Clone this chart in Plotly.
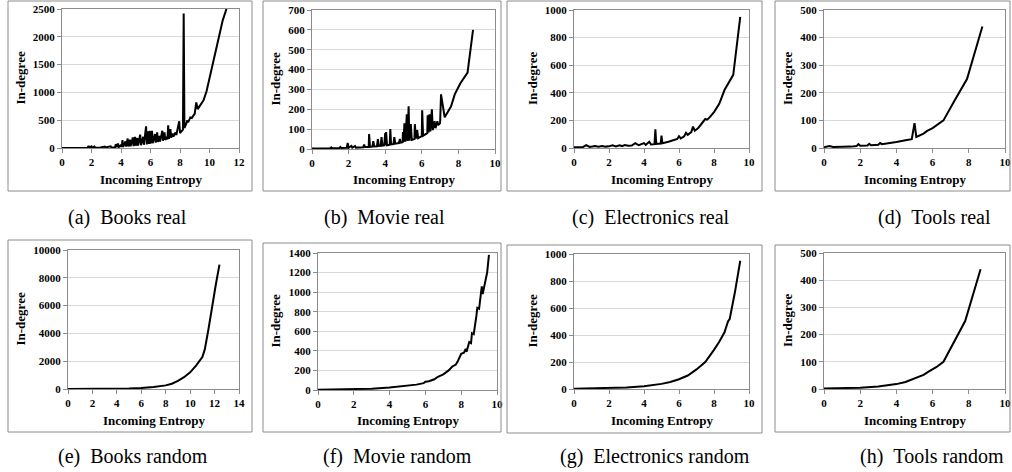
import plotly.graph_objects as go

W, H = 1012, 472

# ---------------- data ----------------
books_real_x = [0.0, 0.8, 1.5, 1.75, 1.8, 1.85, 2.0, 2.05, 2.2, 2.25, 2.6, 2.9, 2.95, 3.3, 3.35, 3.6, 3.65, 3.7, 3.8, 3.85,
                4.0, 4.05, 4.1, 4.15, 4.3, 4.35, 4.45, 4.5, 4.6, 4.65, 4.8, 4.85, 4.95, 5.0, 5.1, 5.15, 5.3, 5.35, 5.5, 5.55,
                5.7, 5.75, 5.85, 5.9, 5.95, 6.0, 6.1, 6.15, 6.3, 6.35, 6.45, 6.5, 6.6, 6.65, 6.8, 6.85, 6.95, 7.0, 7.1, 7.15,
                7.2, 7.25, 7.35, 7.4, 7.5, 7.55, 7.7, 7.75, 7.95, 8.0, 8.1, 8.2, 8.25, 8.3, 8.4, 8.5, 8.55, 8.7, 8.8, 9.0,
                9.1, 9.2, 9.4, 9.6, 9.8, 10.0, 10.3, 10.6, 10.9, 11.15]
books_real_y = [2, 3, 4, 5, 40, 6, 30, 6, 25, 6, 8, 25, 9, 30, 11, 14, 70, 15, 80, 16,
                50, 18, 140, 20, 120, 24, 170, 28, 150, 30, 190, 35, 200, 40, 180, 44, 240, 50, 200, 58,
                390, 64, 300, 74, 310, 80, 310, 86, 250, 96, 280, 108, 220, 115, 310, 130, 280, 145, 200, 155,
                410, 165, 340, 185, 260, 205, 280, 235, 480, 270, 300, 330, 2420, 360, 420, 500, 460, 550, 540, 620,
                820, 700, 780, 860, 1020, 1250, 1550, 1950, 2300, 2500]

movie_real_x = [0.0, 1.0, 1.05, 1.1, 1.5, 1.55, 1.6, 1.9, 1.95, 2.0, 2.15, 2.2, 2.35, 2.4, 2.8, 2.85, 2.9, 3.1, 3.12, 3.17,
                3.3, 3.35, 3.4, 3.55, 3.6, 3.65, 3.75, 3.8, 3.85, 3.95, 4.0, 4.02, 4.05, 4.1, 4.25, 4.28, 4.32, 4.45, 4.5, 4.55,
                4.75, 4.8, 4.85, 4.95, 4.97, 5.0, 5.05, 5.1, 5.18, 5.22, 5.28, 5.32, 5.4, 5.45, 5.6, 5.62, 5.68, 5.75, 5.8, 6.0,
                6.02, 6.07, 6.3, 6.32, 6.37, 6.42, 6.47, 6.55, 6.6, 6.7, 6.75, 6.85, 6.9, 7.0, 7.05, 7.25, 7.6, 7.8, 8.1, 8.5, 8.8]
movie_real_y = [3, 4, 8, 4, 5, 10, 5, 6, 30, 6, 15, 7, 15, 7, 9, 22, 10, 11, 75, 11,
                12, 40, 13, 14, 50, 15, 16, 60, 17, 18, 80, 18, 85, 19, 22, 100, 23, 25, 60, 27,
                30, 50, 32, 34, 85, 35, 130, 37, 175, 40, 215, 42, 125, 46, 50, 125, 52, 95, 55, 65,
                195, 67, 80, 170, 83, 175, 88, 200, 95, 140, 105, 140, 120, 130, 275, 160, 215, 275, 330, 385, 600]

elec_real_x = [0.0, 0.3, 0.5, 0.7, 0.9, 1.2, 1.4, 1.6, 1.8, 2.0, 2.2, 2.4, 2.6, 2.75, 2.9, 3.1, 3.3, 3.5, 3.7, 4.0,
               4.1, 4.3, 4.4, 4.6, 4.65, 4.7, 4.95, 5.0, 5.05, 5.4, 5.5, 5.7, 5.9, 6.0, 6.1, 6.3, 6.4, 6.5, 6.7, 6.8,
               6.9, 7.1, 7.5, 7.6, 7.7, 8.0, 8.3, 8.6, 9.0, 9.1, 9.5]
elec_real_y = [5, 8, 6, 20, 8, 15, 10, 15, 10, 12, 20, 12, 20, 14, 22, 16, 18, 35, 20, 35,
               22, 45, 26, 28, 135, 30, 32, 90, 34, 45, 50, 55, 65, 85, 70, 85, 110, 95, 115, 155,
               125, 145, 210, 205, 215, 260, 320, 420, 510, 530, 950]

tools_real_x = [0.0, 0.3, 0.5, 1.0, 1.5, 1.8, 1.9, 2.0, 2.4, 2.5, 2.6, 3.0, 3.1, 3.2, 3.6, 4.0, 4.5, 4.85, 5.0, 5.1,
                5.5, 5.7, 6.0, 6.3, 6.6, 7.2, 7.9, 8.75]
tools_real_y = [3, 7, 4, 4, 5, 7, 14, 8, 9, 15, 10, 12, 18, 14, 17, 22, 28, 32, 90, 40,
                52, 62, 72, 85, 100, 170, 250, 440]

books_rand_x = [0, 2, 4, 5, 6, 7, 8, 8.5, 9, 9.5, 10, 10.5, 11, 11.2, 11.5, 11.8, 12.1, 12.4]
books_rand_y = [5, 8, 20, 40, 80, 140, 260, 380, 580, 850, 1200, 1700, 2300, 2850, 4300, 6000, 7500, 8950]

movie_rand_x = [0, 1, 2, 3, 4, 4.5, 5, 5.5, 5.9, 6.0, 6.2, 6.5, 6.7, 7.0, 7.3, 7.5, 7.7, 7.8, 8.0, 8.15,
                8.25, 8.3, 8.45, 8.55, 8.6, 8.7, 8.85, 8.9, 9.0, 9.1, 9.15, 9.2, 9.3, 9.45, 9.55]
movie_rand_y = [2, 4, 8, 14, 25, 33, 42, 55, 70, 85, 90, 110, 135, 160, 200, 240, 260, 290, 370, 380,
                420, 390, 490, 480, 580, 570, 760, 840, 830, 1000, 1060, 980, 1080, 1200, 1380]

elec_rand_x = [0, 1, 2, 3, 4, 4.5, 5, 5.5, 6, 6.5, 7, 7.5, 7.8, 8.0, 8.3, 8.6, 8.8, 8.9, 9.2, 9.5]
elec_rand_y = [2, 4, 7, 12, 20, 27, 38, 52, 72, 100, 145, 200, 250, 290, 350, 420, 500, 520, 720, 950]

tools_rand_x = [0, 1, 2, 3, 4, 4.5, 5, 5.5, 5.8, 6.2, 6.6, 7.2, 7.8, 8.65]
tools_rand_y = [2, 3, 5, 9, 18, 26, 38, 52, 65, 80, 100, 175, 250, 440]

captions = ["(a)  Books real", "(b)  Movie real", "(c)  Electronics real", "(d)  Tools real",
            "(e)  Books random", "(f)  Movie random", "(g)  Electronics random", "(h)  Tools random"]
x_max = [12, 10, 10, 10, 14, 10, 10, 10]
y_max = [2500, 700, 1000, 500, 10000, 1400, 1000, 500]
y_step = [500, 100, 200, 100, 2000, 200, 200, 100]
series = [(books_real_x, books_real_y), (movie_real_x, movie_real_y), (elec_real_x, elec_real_y),
          (tools_real_x, tools_real_y), (books_rand_x, books_rand_y), (movie_rand_x, movie_rand_y),
          (elec_rand_x, elec_rand_y), (tools_rand_x, tools_rand_y)]

# ---------------- layout geometry (pixels) ----------------
plot_box = [(62, 239, 9, 148), (312, 495, 10, 149), (574, 749, 10, 148), (824, 1005, 10, 148),
            (68, 239, 250, 389), (318, 497, 253, 390), (574, 749, 254, 389), (824, 1005, 253, 389)]
frame_box = [(8, 252, 1, 191), (263, 501, 1, 191), (507, 762, 1, 191), (775, 1010, 1, 191),
             (8, 252, 240, 432), (263, 501, 243, 432), (507, 762, 245, 433), (775, 1010, 245, 432)]
cap_pos = [(128, 217), (384, 217), (651, 217), (934, 217), (133, 456), (397, 456), (655, 456), (932, 456)]
ytitle_x = [20, 275, 532, 787, 20, 275, 532, 787]
xtitle_y = [179, 179, 179, 179, 420, 420, 420, 420]

def px(x):
    return x / W

def py(y):
    return 1 - y / H

SERIF = "Liberation Serif, Times New Roman, serif"
fig = go.Figure()
layout = dict(width=W, height=H, margin=dict(l=0, r=0, t=0, b=0, autoexpand=False), showlegend=False,
              paper_bgcolor="white", plot_bgcolor="white")
shapes, annotations = [], []

for i, ((xs, ys), cap) in enumerate(zip(series, captions)):
    n = "" if i == 0 else str(i + 1)
    l, r, t, b = plot_box[i]
    fig.add_trace(go.Scatter(x=xs, y=ys, mode="lines", xaxis="x" + n, yaxis="y" + n,
                             line=dict(color="black", width=2), hoverinfo="skip"))
    layout["xaxis" + n] = dict(domain=[px(l), px(r)], anchor="y" + n, range=[0, x_max[i]], dtick=2,
                               automargin=False, showgrid=False, zeroline=False, showline=True, mirror=True,
                               linecolor="#8c8c8c", linewidth=1, ticks="outside", ticklen=4,
                               tickcolor="#8c8c8c",
                               tickfont=dict(family=SERIF, size=11, color="black", weight="bold"))
    layout["yaxis" + n] = dict(domain=[py(b), py(t)], anchor="x" + n, range=[0, y_max[i]], dtick=y_step[i],
                               automargin=False, tickformat="d",
                               showgrid=True, gridcolor="#d9d9d9", gridwidth=1, zeroline=False,
                               showline=True, mirror=True, linecolor="#8c8c8c", linewidth=1,
                               ticks="outside", ticklen=4, tickcolor="#8c8c8c",
                               tickfont=dict(family=SERIF, size=11, color="black", weight="bold"))
    fl, fr, ft, fb = frame_box[i]
    shapes.append(dict(type="rect", xref="paper", yref="paper", x0=px(fl), x1=px(fr), y0=py(fb), y1=py(ft),
                       line=dict(color="#8c8c8c", width=1)))
    annotations.append(dict(text="Incoming Entropy", xref="paper", yref="paper", x=px((l + r) / 2),
                            y=py(xtitle_y[i]), showarrow=False, xanchor="center", yanchor="middle",
                            font=dict(family=SERIF, size=13, color="black", weight="bold")))
    annotations.append(dict(text="In-degree", xref="paper", yref="paper", x=px(ytitle_x[i]),
                            y=py((t + b) / 2), showarrow=False, textangle=-90, xanchor="center",
                            yanchor="middle",
                            font=dict(family=SERIF, size=13, color="black", weight="bold")))
    cx, cy = cap_pos[i]
    annotations.append(dict(text=cap.replace("  ", "&nbsp;&nbsp;"), xref="paper", yref="paper", x=px(cx), y=py(cy),
                            showarrow=False, xanchor="center", yanchor="middle",
                            font=dict(family=SERIF, size=20, color="black")))

layout["shapes"] = shapes
layout["annotations"] = annotations
fig.update_layout(**layout)
fig.write_html("out.html", config={"displayModeBar": False, "staticPlot": True},
               post_script="document.body.style.margin='0';document.body.style.padding='0';")
